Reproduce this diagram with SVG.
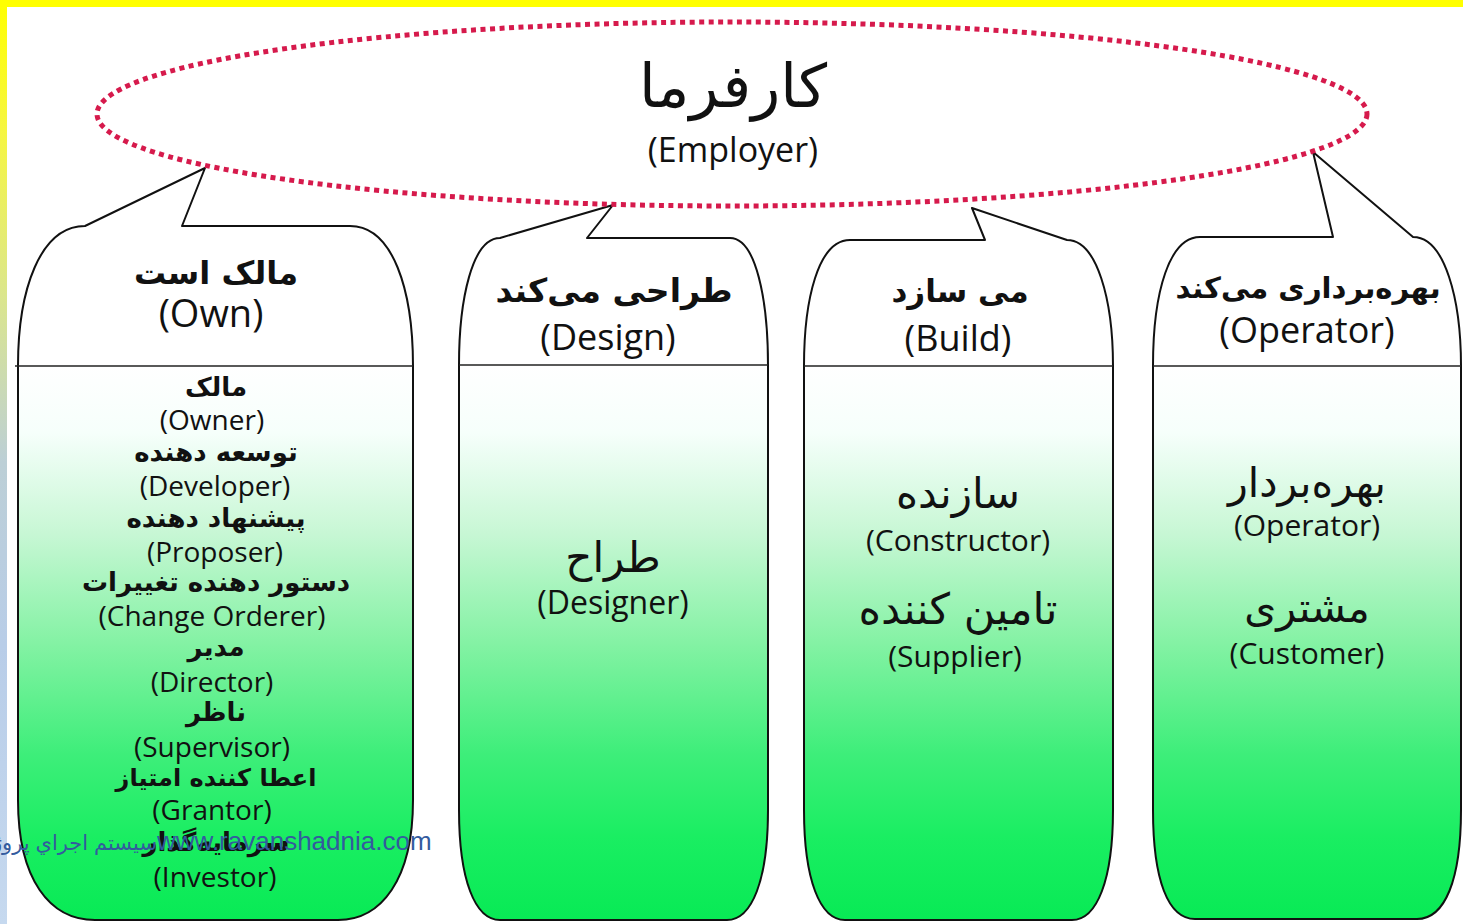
<svg xmlns="http://www.w3.org/2000/svg" width="1463" height="924" viewBox="0 0 1463 924">
  <defs>
    <linearGradient id="sideBar" x1="0" y1="0" x2="0" y2="924" gradientUnits="userSpaceOnUse">
      <stop offset="0" stop-color="#ffff00"/>
      <stop offset="0.14" stop-color="#f6f640"/>
      <stop offset="0.32" stop-color="#dbe68c"/>
      <stop offset="0.5" stop-color="#bccfd6"/>
      <stop offset="0.7" stop-color="#b8cde8"/>
      <stop offset="1" stop-color="#c6d9ef"/>
    </linearGradient>
    <linearGradient id="bodyFill" x1="0" y1="366" x2="0" y2="920" gradientUnits="userSpaceOnUse">
      <stop offset="0" stop-color="#ffffff"/>
      <stop offset="0.12" stop-color="#f6fffb"/>
      <stop offset="0.3" stop-color="#c8f7d5"/>
      <stop offset="0.5" stop-color="#84f2a4"/>
      <stop offset="0.7" stop-color="#3eee7a"/>
      <stop offset="0.85" stop-color="#1aee62"/>
      <stop offset="1" stop-color="#08ea55"/>
    </linearGradient>
  </defs>
  <style>
    .shape { fill: url(#bodyFill); stroke: #111; stroke-width: 2; stroke-linejoin: round; }
    .divider { stroke: #222; stroke-width: 1.5; }
    .fa { font-family: "DejaVu Sans", sans-serif; fill: #111; text-anchor: middle; }
    .en { font-family: "Open Sans", "Liberation Sans", sans-serif; fill: #111; text-anchor: middle; }
    .b { font-weight: bold; }
    .mark { font-family: "Liberation Sans", "DejaVu Sans", sans-serif; fill: #335b9e; }
  </style>

  <!-- page background and frame strips -->
  <rect x="0" y="0" width="1463" height="924" fill="#ffffff"/>
  <rect x="0" y="0" width="7" height="924" fill="url(#sideBar)"/>
  <rect x="0" y="0" width="1463" height="7" fill="#ffff00"/>

  <!-- callout columns -->
  <g id="col-own">
    <path class="shape" d="M 18 366 C 18 290 40 226 85 226 L 205 168 L 182 226 L 350 226 C 393 226 413 290 413 366 L 413 800 C 413 880 381 920 338 920 L 95 920 C 50 920 18 880 18 800 Z"/>
    <line class="divider" x1="15" y1="366" x2="413" y2="366"/>
    <text class="fa b" x="216" y="284" font-size="32">مالک است</text>
    <text class="en" x="211" y="327" font-size="38">(Own)</text>
    <text class="fa b" x="216" y="396" font-size="26">مالک</text>
    <text class="en" x="212" y="430" font-size="28">(Owner)</text>
    <text class="fa b" x="216" y="461" font-size="26">توسعه دهنده</text>
    <text class="en" x="215" y="496" font-size="28">(Developer)</text>
    <text class="fa b" x="216" y="527" font-size="26">پیشنهاد دهنده</text>
    <text class="en" x="215" y="562" font-size="28">(Proposer)</text>
    <text class="fa b" x="216" y="591" font-size="26">دستور دهنده تغییرات</text>
    <text class="en" x="212" y="626" font-size="28">(Change Orderer)</text>
    <text class="fa b" x="216" y="656" font-size="26">مدیر</text>
    <text class="en" x="212" y="692" font-size="28">(Director)</text>
    <text class="fa b" x="216" y="721" font-size="26">ناظر</text>
    <text class="en" x="212" y="757" font-size="28">(Supervisor)</text>
    <text class="fa b" x="216" y="786" font-size="24">اعطا کننده امتیاز</text>
    <text class="en" x="212" y="820" font-size="28">(Grantor)</text>
    <text class="fa b" x="216" y="851" font-size="26">سرمایه‌گذار</text>
    <text class="en" x="215" y="887" font-size="28">(Investor)</text>
  </g>

  <g id="col-design">
    <path class="shape" d="M 459 365 C 459 300 472 238 500 238 L 613 205 L 587 238 L 730 238 C 756 238 768 300 768 365 L 768 810 C 768 880 752 920 727 920 L 500 920 C 475 920 459 880 459 810 Z"/>
    <line class="divider" x1="459" y1="365" x2="768" y2="365"/>
    <text class="fa b" x="614" y="302" font-size="33">طراحی می‌کند</text>
    <text class="en" x="608" y="350" font-size="36">(Design)</text>
    <text class="fa" x="613" y="572" font-size="42">طراح</text>
    <text class="en" x="613" y="614" font-size="32">(Designer)</text>
  </g>

  <g id="col-build">
    <path class="shape" d="M 804 366 C 804 300 818 240 850 240 L 985 240 L 972 208 L 1067 240 C 1097 240 1113 300 1113 366 L 1113 810 C 1113 880 1097 920 1072 920 L 845 920 C 820 920 804 880 804 810 Z"/>
    <line class="divider" x1="804" y1="366" x2="1113" y2="366"/>
    <text class="fa b" x="960" y="302" font-size="31">می سازد</text>
    <text class="en" x="958" y="351" font-size="36">(Build)</text>
    <text class="fa" x="958" y="508" font-size="42">سازنده</text>
    <text class="en" x="958" y="551" font-size="30">(Constructor)</text>
    <text class="fa" x="958" y="624" font-size="43">تامین کننده</text>
    <text class="en" x="955" y="667" font-size="30">(Supplier)</text>
  </g>

  <g id="col-operate">
    <path class="shape" d="M 1153 366 C 1153 290 1170 237 1200 237 L 1333 237 L 1313 152 L 1413 237 C 1445 237 1461 300 1461 366 L 1461 810 C 1461 880 1445 919 1417 919 L 1195 919 C 1168 919 1153 880 1153 810 Z"/>
    <line class="divider" x1="1153" y1="366" x2="1461" y2="366"/>
    <text class="fa b" x="1308" y="298" font-size="29">بهره‌برداری می‌کند</text>
    <text class="en" x="1307" y="343" font-size="36">(Operator)</text>
    <text class="fa" x="1307" y="497" font-size="41">بهره‌بردار</text>
    <text class="en" x="1307" y="536" font-size="30">(Operator)</text>
    <text class="fa" x="1307" y="622" font-size="41">مشتری</text>
    <text class="en" x="1307" y="664" font-size="30">(Customer)</text>
  </g>

  <!-- employer ellipse -->
  <g id="employer">
    <ellipse cx="732" cy="114" rx="635" ry="92" fill="none" stroke="#d61a4c" stroke-width="5" stroke-dasharray="5 4.5"/>
    <text class="fa" x="733" y="107" font-size="60">کارفرما</text>
    <text class="en" x="733" y="162" font-size="34">(Employer)</text>
  </g>

  <!-- site watermark -->
  <g id="watermark">
    <text class="mark" x="157" y="850" font-size="26">www.ravanshadnia.com</text>
    <text class="mark" x="157" y="850" font-size="21" text-anchor="end">سیستم اجراي پروژه</text>
  </g>
</svg>
